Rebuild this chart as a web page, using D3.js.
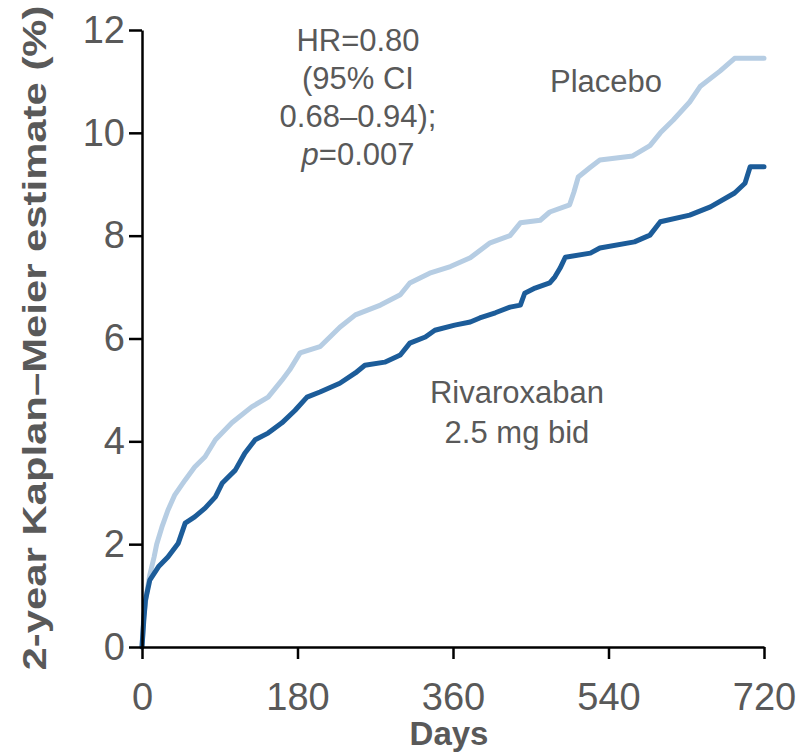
<!DOCTYPE html>
<html>
<head>
<meta charset="utf-8">
<title>Kaplan-Meier</title>
<script src="https://cdn.jsdelivr.net/npm/d3@7/dist/d3.min.js"></script>
<style>
  body { margin: 0; background: #fff; }
  text { font-family: "Liberation Sans", Arial, sans-serif; }
</style>
</head>
<body>
<svg id="svg" width="802" height="754"></svg>
<script>
// values (days, cumulative %)
var placeboDays = [0, 2, 5, 9, 14, 17, 23, 30, 38, 50, 61, 73, 85, 104, 127, 146, 162, 171, 183, 206, 229, 247, 276, 299, 310, 333, 357, 380, 403, 426, 438, 461, 472, 495, 500, 505, 519, 530, 568, 588, 600, 615, 634, 646, 669, 686, 720];
var placeboVals = [0, 0.6, 1.0, 1.4, 1.75, 2.0, 2.33, 2.66, 2.96, 3.25, 3.5, 3.7, 4.03, 4.36, 4.67, 4.86, 5.19, 5.39, 5.72, 5.84, 6.22, 6.46, 6.65, 6.85, 7.08, 7.27, 7.4, 7.57, 7.86, 8.0, 8.25, 8.3, 8.46, 8.6, 8.85, 9.14, 9.33, 9.47, 9.55, 9.75, 10.0, 10.25, 10.6, 10.9, 11.2, 11.45, 11.45];

var rivaDays = [0, 2, 4, 9, 19, 30, 42, 50, 61, 73, 85, 93, 108, 119, 131, 146, 162, 177, 191, 206, 229, 247, 258, 281, 299, 310, 328, 339, 362, 380, 391, 409, 426, 438, 443, 455, 472, 478, 484, 490, 519, 530, 570, 588, 600, 634, 658, 686, 698, 704, 720];
var rivaVals = [0, 0.5, 0.91, 1.3, 1.56, 1.75, 2.02, 2.41, 2.53, 2.7, 2.92, 3.19, 3.44, 3.77, 4.03, 4.16, 4.36, 4.6, 4.86, 4.96, 5.13, 5.33, 5.48, 5.54, 5.68, 5.91, 6.03, 6.16, 6.26, 6.32, 6.4, 6.5, 6.61, 6.65, 6.88, 6.98, 7.08, 7.2, 7.37, 7.58, 7.66, 7.76, 7.88, 8.01, 8.27, 8.4, 8.56, 8.83, 9.02, 9.34, 9.34];

var xTicks = [0, 180, 360, 540, 720];
var yTicks = [0, 2, 4, 6, 8, 10, 12];

var statLines = ["HR=0.80", "(95% CI", "0.68\u20130.94);"];

var grey = "#595959";

function draw(){
  var svg = d3.select("#svg");

  var x = d3.scaleLinear().domain([0, 720]).range([142, 764]);
  var y = d3.scaleLinear().domain([0, 12]).range([647, 30]);

  // curves
  var line = d3.line()
    .x(function(d){ return x(d[0]); })
    .y(function(d){ return y(d[1]); });

  var placebo = d3.zip(placeboDays, placeboVals);
  var riva = d3.zip(rivaDays, rivaVals);

  svg.append("path").datum(placebo)
    .attr("d", line)
    .attr("fill", "none")
    .attr("stroke", "#b6cde3")
    .attr("stroke-width", 5)
    .attr("stroke-linejoin", "round")
    .attr("stroke-linecap", "round");

  svg.append("path").datum(riva)
    .attr("d", line)
    .attr("fill", "none")
    .attr("stroke", "#1c5c99")
    .attr("stroke-width", 5)
    .attr("stroke-linejoin", "round")
    .attr("stroke-linecap", "round");

  // axes
  var yAxis = svg.append("g")
    .attr("transform", "translate(142,0)")
    .call(d3.axisLeft(y).tickValues(yTicks).tickSize(13).tickSizeOuter(0).tickPadding(4));
  var xAxis = svg.append("g")
    .attr("transform", "translate(0,647)")
    .call(d3.axisBottom(x).tickValues(xTicks).tickSize(12).tickSizeOuter(0).tickPadding(24));

  [yAxis, xAxis].forEach(function(g){
    g.select(".domain").attr("stroke", "#000").attr("stroke-width", 2.5);
    g.selectAll(".tick line").attr("stroke", "#000").attr("stroke-width", 2.5);
    g.selectAll(".tick text")
      .attr("fill", grey)
      .attr("font-size", 38)
      .attr("font-family", "Liberation Sans, Arial, sans-serif");
  });

  // axis titles
  svg.append("text")
    .attr("transform", "translate(46,338) rotate(-90)")
    .attr("text-anchor", "middle")
    .attr("font-size", 34)
    .attr("font-weight", "bold")
    .attr("fill", grey)
    .attr("textLength", 665)
    .attr("lengthAdjust", "spacingAndGlyphs")
    .text("2-year Kaplan\u2013Meier estimate (%)");

  svg.append("text")
    .attr("x", 449).attr("y", 745)
    .attr("text-anchor", "middle")
    .attr("font-size", 33)
    .attr("font-weight", "bold")
    .attr("fill", grey)
    .text("Days");

  // stats block
  statLines.forEach(function(s, i){
    svg.append("text")
      .attr("x", 358).attr("y", 51 + i*38)
      .attr("text-anchor", "middle")
      .attr("font-size", 31)
      .attr("fill", grey)
      .text(s);
  });
  var pv = svg.append("text")
    .attr("x", 358).attr("y", 165)
    .attr("text-anchor", "middle")
    .attr("font-size", 31)
    .attr("fill", grey);
  pv.append("tspan").attr("font-style", "italic").text("p");
  pv.append("tspan").text("=0.007");

  // series labels
  svg.append("text")
    .attr("x", 606).attr("y", 92)
    .attr("text-anchor", "middle")
    .attr("font-size", 31)
    .attr("fill", grey)
    .text("Placebo");

  svg.append("text")
    .attr("x", 517).attr("y", 403)
    .attr("text-anchor", "middle")
    .attr("font-size", 31)
    .attr("fill", grey)
    .text("Rivaroxaban");
  svg.append("text")
    .attr("x", 517).attr("y", 443)
    .attr("text-anchor", "middle")
    .attr("font-size", 31)
    .attr("fill", grey)
    .text("2.5 mg bid");
}
draw();
</script>
</body>
</html>
